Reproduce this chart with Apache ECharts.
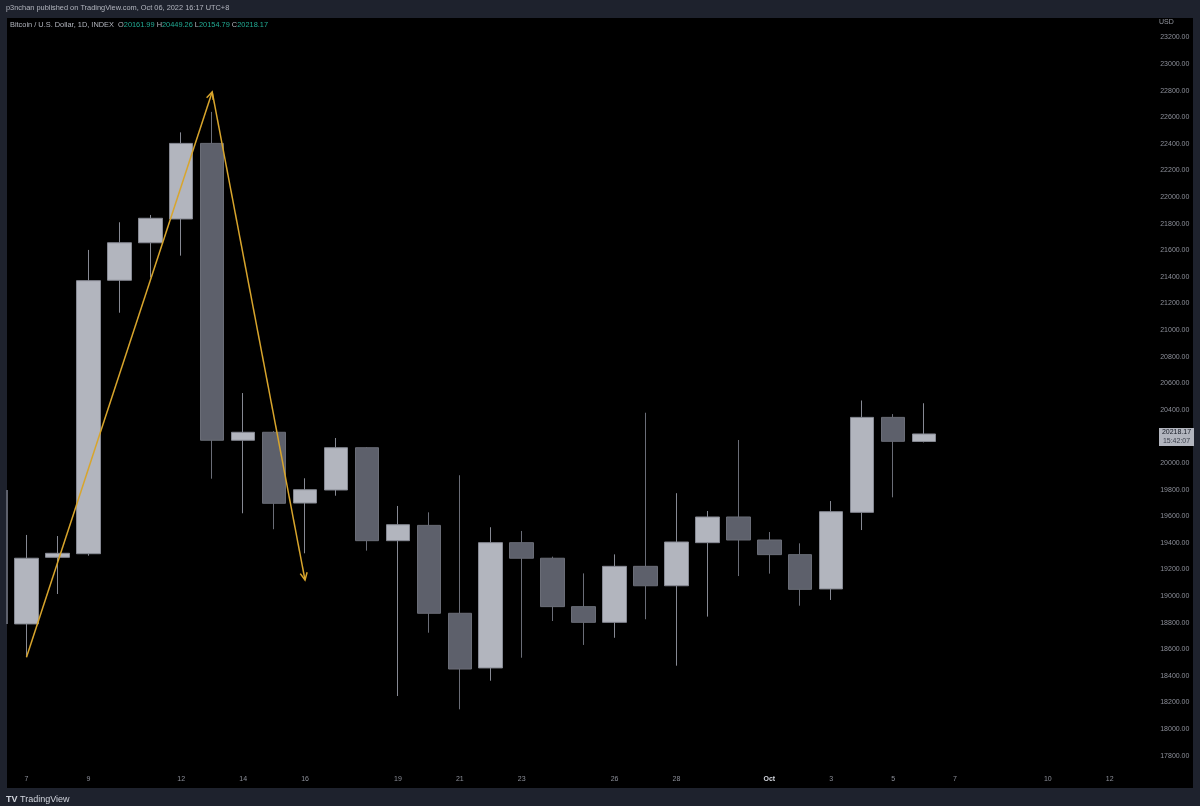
<!DOCTYPE html>
<html>
<head>
<meta charset="utf-8">
<script src="https://cdn.jsdelivr.net/npm/echarts@6/dist/echarts.min.js"></script>
<style>
html,body{margin:0;padding:0;background:#1e222d;}
#chart{width:1200px;height:806px;}
</style>
</head>
<body>
<div id="chart"></div>
<script>
// ---- data ----
const categories = ['Sep 7','Sep 8','Sep 9','Sep 10','Sep 11','Sep 12','Sep 13','Sep 14','Sep 15','Sep 16',
  'Sep 17','Sep 18','Sep 19','Sep 20','Sep 21','Sep 22','Sep 23','Sep 24','Sep 25','Sep 26',
  'Sep 27','Sep 28','Sep 29','Sep 30','Oct 1','Oct 2','Oct 3','Oct 4','Oct 5','Oct 6',
  'Oct 7','Oct 8','Oct 9','Oct 10','Oct 11','Oct 12'];
const opens  = [18790,19291,19318,21374,21656,21835,22403,20171,20231,19699,
  19797,20115,19416,19531,18870,18459,19401,19284,18920,18802,
  19223,19077,19401,19594,19421,19311,19053,19629,20343,20161.99];
const closes = [19284,19321,21371,21656,21840,22403,20171,20231,19697,19799,
  20115,19416,19536,18870,18451,19401,19284,18920,18802,19223,
  19077,19406,19594,19421,19311,19050,19634,20343,20163,20218.17];
const lows   = [18540,19015,19303,21130,21395,21559,19882,19622,19502,19321,
  19754,19341,18248,18724,18148,18363,18536,18812,18632,18686,
  18825,18476,18845,19150,19168,18927,18970,19496,19742,20154.79];
const highs  = [19459,19451,21602,21810,21865,22486,22640,20526,20240,19885,
  20188,20120,19677,19629,19908,19517,19489,19296,19170,19313,
  20378,19773,19639,20173,19481,19396,19714,20470,20368,20449.26];
const tickDays = ['Sep 7','Sep 9','Sep 12','Sep 14','Sep 16','Sep 19','Sep 21','Sep 23','Sep 26','Sep 28',
  'Oct 1','Oct 3','Oct 5','Oct 7','Oct 10','Oct 12'];
// drawn arrow path (category, price)
const arrowDates  = ['Sep 7','Sep 13','Sep 16'];
const arrowPrices = [18540, 22790, 19120];
const lastPrice = 20218.17;
const lastTime = '15:42:07';

const candleData = opens.map((o,i)=>[o, closes[i], lows[i], highs[i]]);
const arrowData = arrowDates.map((d,i)=>[categories.indexOf(d), arrowPrices[i]]);

const chart = echarts.init(document.getElementById('chart'), null, {renderer:'canvas'});
const ARROW = '#d8a52c';
const FONT = '"Liberation Sans", Arial, sans-serif';

function chevron(p, from, len, ang){
  const dx = from[0]-p[0], dy = from[1]-p[1];
  const L = Math.sqrt(dx*dx+dy*dy);
  const ux = dx/L, uy = dy/L;
  const c = Math.cos(ang), s = Math.sin(ang);
  const a = [p[0]+len*(ux*c - uy*s), p[1]+len*(ux*s + uy*c)];
  const b = [p[0]+len*(ux*c + uy*s), p[1]+len*(-ux*s + uy*c)];
  return [a, p, b];
}

const option = {
  backgroundColor: '#1e222d',
  animation: false,
  graphic: [
    {type:'rect', z:-10, silent:true, shape:{x:7,y:18,width:1186,height:770}, style:{fill:'#000000'}},
    {type:'rect', z:-5, silent:true, shape:{x:6,y:490,width:2,height:134}, style:{fill:'#5d606b'}},
    {type:'text', left:6, top:4, style:{text:'p3nchan published on TradingView.com, Oct 06, 2022 16:17 UTC+8', fill:'#b2b5be', font:'7.4px ' + FONT}},
    {type:'text', left:10, top:21, style:{
      text:'Bitcoin / U.S. Dollar, 1D, INDEX  {l|O}{g|20161.99} {l|H}{g|20449.26} {l|L}{g|20154.79} {l|C}{g|20218.17}',
      fill:'#b2b5be', font:'7.4px ' + FONT,
      rich:{l:{fill:'#b2b5be', font:'7.4px ' + FONT}, g:{fill:'#22ab94', font:'7.4px ' + FONT}}
    }},
    {type:'text', left:1159, top:19, style:{text:'USD', fill:'#9598a1', font:'7px ' + FONT}},
    {type:'text', left:6, top:795, style:{text:'TV', fill:'#d1d4dc', font:'bold 9px ' + FONT}},
    {type:'text', left:20, top:795, style:{text:'TradingView', fill:'#d1d4dc', font:'9px ' + FONT}}
  ],
  grid: {left:11, right:1200-1125.2, top:10.8, bottom:806-782.2, containLabel:false},
  xAxis: {
    type:'category', data:categories, boundaryGap:true,
    axisLine:{show:false}, axisTick:{show:false}, splitLine:{show:false},
    axisLabel:{
      interval: (idx, val)=> tickDays.indexOf(val) >= 0,
      margin: -7,
      color:'#8c8f99', fontSize:7, fontFamily:FONT,
      formatter: (v)=> v === 'Oct 1' ? '{b|Oct}' : v.split(' ')[1],
      rich:{b:{color:'#d1d4dc', fontSize:7, fontWeight:'bold', fontFamily:FONT}}
    }
  },
  yAxis: {
    type:'value', position:'right', min:17600, max:23400, interval:200, scale:true,
    axisLine:{show:false}, axisTick:{show:false}, splitLine:{show:false},
    axisLabel:{
      showMinLabel:false, showMaxLabel:false, inside:false, margin:35, align:'left',
      color:'#8c8f99', fontSize:7, fontFamily:FONT,
      formatter:(v)=> v.toFixed(2)
    }
  },
  series: [
    {
      type:'candlestick', data:candleData, barWidth:24,
      itemStyle:{color:'#b2b5be', color0:'#5d606b', borderColor:'#868993', borderColor0:'#6a6d77', borderWidth:1}
    },
    {
      type:'custom', data:arrowData, z:10, silent:true, clip:false,
      renderItem:(params, api)=>{
        const i = params.dataIndex;
        if (i === 0) return null;
        const p0 = api.coord(arrowData[i-1]);
        const p1 = api.coord(arrowData[i]);
        const head = chevron(p1, p0, 8, 0.45);
        return {type:'group', children:[
          {type:'line', shape:{x1:p0[0],y1:p0[1],x2:p1[0],y2:p1[1]}, style:{stroke:ARROW, lineWidth:1.5}},
          {type:'polyline', shape:{points:head}, style:{stroke:ARROW, lineWidth:1.5, fill:null}}
        ]};
      }
    },
    {
      type:'custom', data:[[categories.length-1, lastPrice]], z:20, silent:true, clip:false,
      renderItem:(params, api)=>{
        const p = api.coord([categories.length-1, lastPrice]);
        const x = 1159, w = 35, h = 18, cy = p[1] + 3;
        return {type:'group', children:[
          {type:'rect', shape:{x:x, y:cy-h/2, width:w, height:h}, style:{fill:'#b2b5be'}},
          {type:'text', style:{x:x+w/2, y:cy-4.5, text:lastPrice.toFixed(2), fill:'#131722', font:'7px ' + FONT, align:'center', verticalAlign:'middle'}},
          {type:'text', style:{x:x+w/2, y:cy+4, text:lastTime, fill:'#3a3e4a', font:'7px ' + FONT, align:'center', verticalAlign:'middle'}}
        ]};
      }
    }
  ]
};
chart.setOption(option);
</script>
</body>
</html>
